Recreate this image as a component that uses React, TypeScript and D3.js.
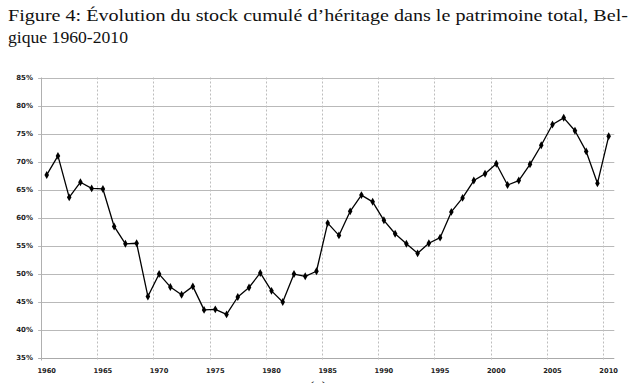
import React from "react";
import * as d3 from "d3";

const years: number[] = [
  1960, 1961, 1962, 1963, 1964, 1965, 1966, 1967, 1968, 1969,
  1970, 1971, 1972, 1973, 1974, 1975, 1976, 1977, 1978, 1979,
  1980, 1981, 1982, 1983, 1984, 1985, 1986, 1987, 1988, 1989,
  1990, 1991, 1992, 1993, 1994, 1995, 1996, 1997, 1998, 1999,
  2000, 2001, 2002, 2003, 2004, 2005, 2006, 2007, 2008, 2009, 2010,
];

const shares: number[] = [
  67.6, 71.0, 63.6, 66.3, 65.2, 65.1, 58.4, 55.3, 55.4, 45.9,
  49.9, 47.6, 46.2, 47.7, 43.5, 43.6, 42.7, 45.8, 47.5, 50.1,
  46.9, 44.9, 49.9, 49.5, 50.4, 59.0, 56.8, 61.1, 64.0, 62.8,
  59.5, 57.1, 55.3, 53.6, 55.4, 56.4, 61.0, 63.5, 66.6, 67.8,
  69.6, 65.8, 66.6, 69.5, 72.9, 76.6, 77.8, 75.5, 71.8, 66.1, 74.5,
];

const yTicks: number[] = [35, 40, 45, 50, 55, 60, 65, 70, 75, 80, 85];
const xLabelYears: number[] = [1960, 1965, 1970, 1975, 1980, 1985, 1990, 1995, 2000, 2005, 2010];
const xGridYears: number[] = [1965, 1970, 1975, 1980, 1985, 1990, 1995, 2000, 2005, 2010];

const titleLine1 = "Figure 4:  Évolution du stock cumulé d’héritage dans le patrimoine total, Bel-";
const titleLine2 = "gique 1960-2010";

export default function App() {
  const W = 640;
  const H = 383;
  const left = 41.1;
  const right = 614.3;
  const top = 77.5;
  const bottom = 357.5;

  const x = d3.scaleBand<number>().domain(years).range([left, right]).padding(0);
  const bw = x.bandwidth();
  const y = d3.scaleLinear().domain([35, 85]).range([bottom, top]);

  const cx = (yr: number) => (x(yr) as number) + bw / 2;

  const line = d3
    .line<number>()
    .x((_, i) => cx(years[i]))
    .y((d) => y(d));

  const diamond = d3.symbol().type(d3.symbolDiamond).size(18)() as string;

  const labelFont = "'DejaVu Sans', sans-serif";

  return (
    <svg
      width={W}
      height={H}
      style={{ position: "absolute", left: 0, top: 0, background: "#fff" }}
    >
      <rect x={0} y={0} width={W} height={H} fill="#fff" />
      <text
        x={8}
        y={21}
        fontFamily="'Liberation Serif', serif"
        fontSize={17.5}
        fill="#111"
        textLength={620}
        lengthAdjust="spacingAndGlyphs"
      >
        {titleLine1}
      </text>
      <text
        x={8}
        y={43}
        fontFamily="'Liberation Serif', serif"
        fontSize={17.5}
        fill="#111"
        textLength={120}
        lengthAdjust="spacingAndGlyphs"
      >
        {titleLine2}
      </text>

      {/* horizontal gridlines */}
      {yTicks.map((t) => (
        <line
          key={"h" + t}
          x1={left - 3}
          x2={right}
          y1={Math.round(y(t)) + 0.5}
          y2={Math.round(y(t)) + 0.5}
          stroke={t === 35 ? "#aaaaaa" : "#b9b9b9"}
          strokeWidth={1}
        />
      ))}

      {/* vertical dashed gridlines */}
      {xGridYears.map((yr) => (
        <line
          key={"v" + yr}
          x1={Math.round(x(yr) as number) + 0.5}
          x2={Math.round(x(yr) as number) + 0.5}
          y1={top}
          y2={bottom + 3}
          stroke="#bdbdbd"
          strokeWidth={1}
          strokeDasharray="2,2"
        />
      ))}

      {/* y axis line */}
      <line
        x1={Math.round(left) + 0.5}
        x2={Math.round(left) + 0.5}
        y1={top}
        y2={bottom + 3}
        stroke="#b0b0b0"
        strokeWidth={1}
      />

      {/* y tick labels */}
      {yTicks.map((t) => (
        <text
          key={"yl" + t}
          x={33}
          y={y(t) + 2.5}
          textAnchor="end"
          fontFamily={labelFont}
          fontWeight="bold"
          fontSize={7}
          fill="#222"
        >
          {t + "%"}
        </text>
      ))}

      {/* x tick labels */}
      {xLabelYears.map((yr) => (
        <text
          key={"xl" + yr}
          x={cx(yr)}
          y={372.5}
          textAnchor="middle"
          fontFamily={labelFont}
          fontWeight="bold"
          fontSize={6.7}
          fill="#222"
        >
          {yr}
        </text>
      ))}

      {/* series line */}
      <path d={line(shares) as string} fill="none" stroke="#000" strokeWidth={1.3} strokeLinejoin="round" />
      {shares.map((v, i) => (
        <path
          key={"m" + years[i]}
          d={diamond}
          transform={`translate(${cx(years[i])},${y(v)})`}
          fill="#000"
        />
      ))}

      {/* subcaption (cut off at bottom, as in the source) */}
      <text
        x={318}
        y={393}
        textAnchor="middle"
        fontFamily="'Liberation Serif', serif"
        fontSize={17}
        fill="#111"
      >
        (a)
      </text>
    </svg>
  );
}
